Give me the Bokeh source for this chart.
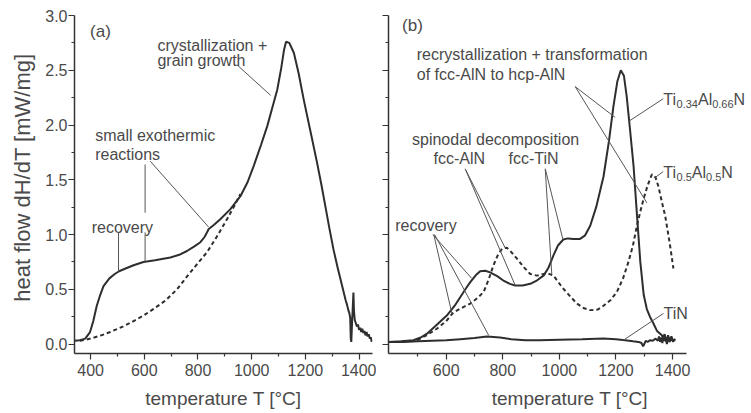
from math import pi
from bokeh.plotting import figure
from bokeh.models import Range1d, FixedTicker, Label, NumeralTickFormatter
from bokeh.layouts import row
from bokeh.embed import file_html
from bokeh.resources import INLINE

# ---------------- data: panel (a) ----------------
temp_a = [340, 360, 380, 398, 410, 423, 436, 448, 470, 490, 506, 530, 560, 597, 640,
          697, 730, 759, 785, 809, 825, 840, 860, 883, 920, 958, 985, 1008, 1035, 1058,
          1078, 1095, 1110, 1120, 1128, 1140, 1157, 1175, 1194, 1220, 1244, 1260, 1275,
          1290, 1305, 1320, 1332, 1345, 1350, 1355, 1360, 1364, 1367, 1369, 1371, 1374,
          1377, 1379, 1381, 1384, 1388, 1392, 1396, 1400, 1404, 1408, 1412, 1416, 1420,
          1424, 1428, 1432, 1436, 1440, 1444, 1447]
heat_a = [0.03, 0.035, 0.05, 0.11, 0.21, 0.35, 0.45, 0.53, 0.60, 0.64, 0.665, 0.69, 0.72,
          0.75, 0.765, 0.79, 0.815, 0.85, 0.89, 0.93, 0.98, 1.05, 1.09, 1.14, 1.23, 1.35,
          1.48, 1.63, 1.82, 1.99, 2.17, 2.32, 2.52, 2.68, 2.76, 2.75, 2.66, 2.47, 2.23,
          1.93, 1.65, 1.45, 1.25, 1.05, 0.86, 0.70, 0.58, 0.45, 0.40, 0.36, 0.31, 0.28,
          0.24, 0.05, 0.02, 0.20, 0.36, 0.47, 0.30, 0.22, 0.19, 0.16, 0.18, 0.13, 0.15,
          0.11, 0.14, 0.10, 0.12, 0.08, 0.11, 0.07, 0.09, 0.05, 0.06, 0.02]
temp_a_base = [360, 400, 440, 473, 520, 560, 597, 640, 680, 722, 760, 800, 834, 870, 908,
               935, 958]
heat_a_base = [0.03, 0.05, 0.08, 0.11, 0.16, 0.21, 0.26, 0.33, 0.40, 0.50, 0.62, 0.74,
               0.84, 0.98, 1.14, 1.26, 1.37]

# ---------------- data: panel (b) ----------------
temp_b_034 = [396, 440, 484, 510, 532, 560, 602, 630, 650, 670, 685, 705, 720, 738, 755,
              780, 802, 825, 844, 870, 897, 920, 944, 962, 979, 995, 1014, 1030, 1050,
              1073, 1090, 1109, 1130, 1156, 1175, 1191, 1205, 1217, 1228, 1238, 1250,
              1262, 1275, 1286, 1298, 1309, 1320, 1332, 1345, 1362, 1366, 1372, 1378,
              1384, 1390, 1396, 1402, 1408]
heat_b_034 = [0.02, 0.025, 0.035, 0.06, 0.095, 0.16, 0.26, 0.35, 0.43, 0.51, 0.565, 0.63,
              0.665, 0.67, 0.655, 0.62, 0.58, 0.55, 0.535, 0.535, 0.55, 0.58, 0.625,
              0.70, 0.81, 0.90, 0.955, 0.965, 0.96, 0.96, 0.99, 1.08, 1.25, 1.53, 1.85,
              2.17, 2.40, 2.50, 2.45, 2.26, 1.95, 1.63, 1.15, 0.75, 0.45, 0.32, 0.25,
              0.19, 0.12, 0.08, 0.06, 0.09, 0.02, 0.08, 0.03, 0.07, 0.02, 0.05]
temp_b_05 = [497, 530, 567, 600, 626, 655, 685, 710, 732, 750, 767, 782, 797, 814, 830,
             850, 875, 897, 920, 944, 960, 979, 995, 1014, 1040, 1062, 1085, 1109, 1135,
             1156, 1180, 1203, 1225, 1244, 1260, 1274, 1287, 1297, 1312, 1327, 1340,
             1350, 1362, 1374, 1390, 1403]
heat_b_05 = [0.035, 0.08, 0.14, 0.21, 0.29, 0.33, 0.37, 0.42, 0.475, 0.59, 0.72, 0.81,
             0.87, 0.88, 0.84, 0.78, 0.70, 0.64, 0.625, 0.64, 0.645, 0.625, 0.57, 0.505,
             0.43, 0.37, 0.33, 0.31, 0.315, 0.35, 0.40, 0.475, 0.60, 0.75, 0.90, 1.08,
             1.22, 1.32, 1.45, 1.55, 1.52, 1.44, 1.30, 1.17, 0.92, 0.69]
temp_b_tin = [396, 450, 500, 550, 600, 650, 700, 744, 790, 830, 880, 930, 1000, 1080, 1156,
              1200, 1232, 1260, 1280, 1290, 1296, 1300, 1305, 1312, 1320, 1330, 1340, 1348,
              1352, 1356, 1360, 1364, 1368, 1372, 1376, 1380, 1385, 1390, 1395, 1400,
              1405, 1410]
heat_b_tin = [0.02, 0.02, 0.025, 0.03, 0.035, 0.045, 0.055, 0.07, 0.06, 0.045, 0.035,
              0.035, 0.04, 0.045, 0.05, 0.045, 0.035, 0.025, 0.02, 0.01, -0.02, 0.0, 0.03,
              0.02, 0.035, 0.03, 0.05, 0.03, 0.07, 0.02, 0.06, 0.01, 0.08, 0.03, 0.05,
              0.0, 0.06, 0.02, 0.05, 0.03, 0.04, 0.03]

# ---------------- ticks ----------------
xa_major = [400, 600, 800, 1000, 1200, 1400]
xb_major = [600, 800, 1000, 1200, 1400]
x_minor = [500, 700, 900, 1100, 1300]
y_major = [0.0, 0.5, 1.0, 1.5, 2.0, 2.5, 3.0]
y_minor = [0.25, 0.75, 1.25, 1.75, 2.25, 2.75]

FONT = "Liberation Sans"
TXT = "#4a4a4a"
CURVE = "#2e2e2e"
LEAD = "#555555"
AX = "#333333"
H = 411


def make_fig(width, xr, bl, br, x_major):
    p = figure(width=width, height=H, x_range=Range1d(*xr), y_range=Range1d(-0.086, 3.0),
               output_backend="svg", toolbar_location=None,
               min_border_left=bl, min_border_right=br, min_border_top=15,
               min_border_bottom=56)
    p.xgrid.visible = False
    p.ygrid.visible = False
    p.outline_line_color = None
    for ax in [p.xaxis[0], p.yaxis[0]]:
        ax.axis_line_color = AX
        ax.axis_line_width = 1.5
        ax.major_tick_line_color = AX
        ax.minor_tick_line_color = AX
        ax.major_tick_line_width = 1.2
        ax.minor_tick_line_width = 1.2
        ax.major_tick_in = 0
        ax.minor_tick_in = 0
        ax.major_tick_out = 6
        ax.minor_tick_out = 3
        ax.major_label_text_font = FONT
        ax.major_label_text_font_size = "16px"
        ax.major_label_text_color = TXT
    p.xaxis.ticker = FixedTicker(ticks=x_major, minor_ticks=x_minor)
    p.yaxis.ticker = FixedTicker(ticks=y_major, minor_ticks=y_minor)
    p.yaxis.formatter = NumeralTickFormatter(format="0.0")
    p.xaxis.major_label_standoff = 4
    p.yaxis.major_label_standoff = 1
    p.xaxis.axis_label = "temperature T [°C]"
    p.xaxis.axis_label_text_font = FONT
    p.xaxis.axis_label_text_font_size = "19px"
    p.xaxis.axis_label_text_font_style = "normal"
    p.xaxis.axis_label_text_color = TXT
    p.xaxis.axis_label_standoff = 9
    return p


def text(p, x, y, s, size="16px", angle=0.0):
    p.add_layout(Label(x=x, y=y, text=s, text_font=FONT, text_font_size=size,
                       text_color=TXT, text_baseline="alphabetic", text_align="left",
                       angle=angle))


def lead(p, x0, y0, x1, y1):
    p.segment(x0=[x0], y0=[y0], x1=[x1], y1=[y1], line_color=LEAD, line_width=1)


ARIAL = {"T": 0.611, "i": 0.222, "A": 0.667, "l": 0.222, "N": 0.722, ".": 0.278}


def chem(p, x, y, parts):
    off = 0.0
    for s, sub in parts:
        size = 11 if sub else 16
        p.add_layout(Label(x=x, y=y, x_offset=off, y_offset=-4 if sub else 0, text=s,
                           text_font=FONT, text_font_size=f"{size}px", text_color=TXT,
                           text_baseline="alphabetic", text_align="left"))
        off += sum(ARIAL.get(c, 0.556) for c in s) * size


# ---------------- y-axis title strip ----------------
pt = figure(width=38, height=H, x_range=Range1d(0, 38), y_range=Range1d(0, H),
            x_axis_type=None, y_axis_type=None, output_backend="svg",
            toolbar_location=None, min_border=0)
pt.outline_line_color = None
pt.xgrid.visible = False
pt.ygrid.visible = False
text(pt, 22, 63, "heat flow dH/dT [mW/mg]", size="22px", angle=pi / 2)

# ---------------- panel (a) ----------------
pa = make_fig(338, (340, 1450), 36, 4, xa_major)
pa.line(temp_a_base, heat_a_base, line_color=CURVE, line_width=2, line_dash="4 3")
pa.line(temp_a, heat_a, line_color=CURVE, line_width=2)
text(pa, 398, 2.85, "(a)", size="17px")
text(pa, 649, 2.73, "crystallization +")
text(pa, 649, 2.59, "grain growth")
text(pa, 417, 1.90, "small exothermic")
text(pa, 417, 1.73, "reactions")
text(pa, 404, 1.065, "recovery")
lead(pa, 945, 2.55, 1071, 2.27)
lead(pa, 603, 1.64, 603, 1.20)
lead(pa, 622, 1.67, 839, 1.07)
lead(pa, 504, 1.02, 504, 0.66)
lead(pa, 603, 1.02, 603, 0.755)

# ---------------- panel (b) ----------------
pb = make_fig(375, (396, 1679), 12, 0, xb_major)
pb.xaxis.bounds = (396, 1450)
pb.yaxis.major_label_text_font_size = "0px"
pb.yaxis.major_label_text_color = None
pb.yaxis.major_label_standoff = 0
pb.line(temp_b_tin, heat_b_tin, line_color=CURVE, line_width=2)
pb.line(temp_b_05, heat_b_05, line_color=CURVE, line_width=2, line_dash="4 3")
pb.line(temp_b_034, heat_b_034, line_color=CURVE, line_width=2)
text(pb, 444, 2.91, "(b)", size="17px")
text(pb, 496, 2.64, "recrystallization + transformation")
text(pb, 496, 2.46, "of fcc-AlN to hcp-AlN")
text(pb, 479, 1.87, "spinodal decomposition")
text(pb, 555, 1.69, "fcc-AlN")
text(pb, 820, 1.69, "fcc-TiN")
text(pb, 420, 1.08, "recovery")
chem(pb, 1367, 2.23, [("Ti", False), ("0.34", True), ("Al", False), ("0.66", True), ("N", False)])
chem(pb, 1367, 1.565, [("Ti", False), ("0.5", True), ("Al", False), ("0.5", True), ("N", False)])
text(pb, 1368, 0.277, "TiN")
lead(pb, 553, 1.0, 690, 0.60)
lead(pb, 556, 1.0, 620, 0.28)
lead(pb, 559, 1.0, 750, 0.08)
lead(pb, 667, 1.60, 808, 0.88)
lead(pb, 667, 1.60, 844, 0.535)
lead(pb, 950, 1.60, 973, 0.64)
lead(pb, 950, 1.60, 1012, 0.96)
lead(pb, 1056, 2.35, 1197, 2.07)
lead(pb, 1056, 2.35, 1309, 1.29)
lead(pb, 1243, 2.03, 1367, 2.24)
lead(pb, 1338, 1.52, 1367, 1.575)
lead(pb, 1226, 0.035, 1368, 0.28)

layout = row(pt, pa, pb)
open("out.html", "w").write(file_html(layout, INLINE))
